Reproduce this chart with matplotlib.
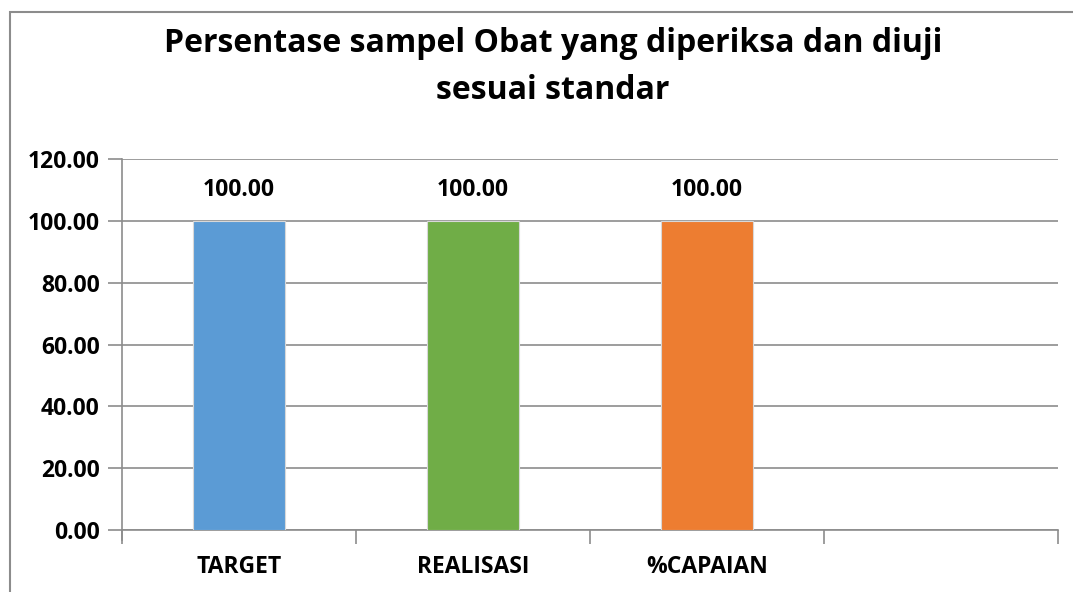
import numpy as np
import matplotlib.pyplot as plt
from matplotlib.patches import Rectangle

categories = ['TARGET', 'REALISASI', '%CAPAIAN', '']
values = [100.00, 100.00, 100.00]
colors = ['#5B9BD5', '#70AD47', '#ED7D31']
title = 'Persentase sampel Obat yang diperiksa dan diuji\nsesuai standar'

plt.rcParams['font.family'] = ['Open Sans', 'DejaVu Sans']
plt.rcParams['font.weight'] = 'bold'

fig = plt.figure(figsize=(10.73, 5.92), dpi=100)
ax = fig.add_axes([122 / 1073, 1 - 530 / 592, (1058 - 122) / 1073, (530 - 159) / 592])

# outer chart frame (cut off on the right and bottom)
fig.patches.append(Rectangle((10 / 1073, -0.05), 1.1, 1 - 12 / 592 + 0.05,
                             transform=fig.transFigure, fill=False,
                             edgecolor='#8c8c8c', linewidth=1.5))

x = np.arange(len(values))
bars = ax.bar(x, values, width=0.39, color=colors, zorder=3,
              edgecolor='#d8d8d8', linewidth=0.8)
for xi, v in zip(x, values):
    ax.text(xi, v + 6, f'{v:.2f}', ha='center', va='bottom',
            fontsize=16.5, fontweight='bold')

ax.set_xlim(-0.5, len(categories) - 0.5)
ax.set_ylim(0, 120)
ax.set_yticks(np.arange(0, 121, 20))
ax.set_yticklabels([f'{t:.2f}' for t in np.arange(0, 121, 20)])
ax.yaxis.grid(True, color='#8c8c8c', linewidth=1.2, zorder=0)

ax.set_xticks(np.arange(len(categories)))
ax.set_xticklabels(categories)
ax.set_xticks(np.arange(len(categories) + 1) - 0.5, minor=True)
ax.tick_params(axis='x', which='major', length=0, pad=18, labelsize=16.5)
ax.tick_params(axis='x', which='minor', length=10, width=1.2, color='#8c8c8c')
ax.tick_params(axis='y', length=10, width=1.2, color='#8c8c8c', labelsize=16.5, pad=6)

for s in ['top', 'right']:
    ax.spines[s].set_visible(False)
for s in ['left', 'bottom']:
    ax.spines[s].set_color('#8c8c8c')
    ax.spines[s].set_linewidth(1.2)
ax.spines['left'].set_bounds(-3.3, 120)

fig.text(553 / 1073, 1 - 27 / 592, title, ha='center', va='top',
         fontsize=23, fontweight='bold', linespacing=1.55)

fig.savefig('out.png', dpi=100)
